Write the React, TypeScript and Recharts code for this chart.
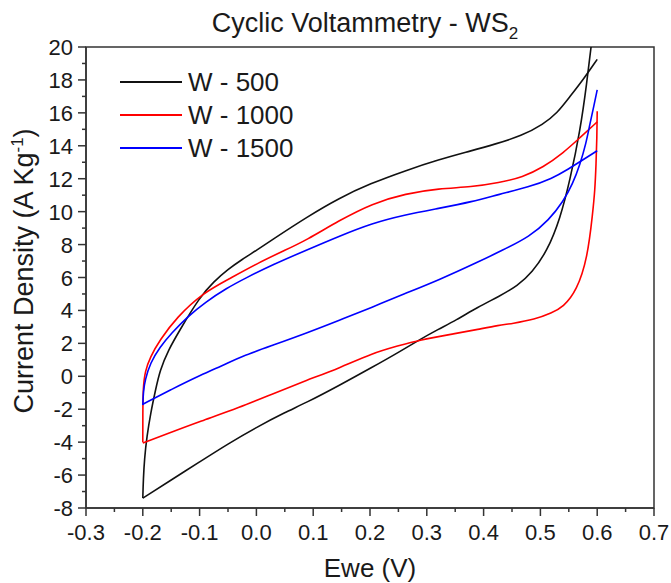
import React from 'react';
import { LineChart, Line, XAxis, YAxis, ReferenceArea } from 'recharts';

const FONT = "Arial, 'Liberation Sans', Helvetica, sans-serif";

// Tick values
const xMajorTicks = [-0.3, -0.2, -0.1, 0.0, 0.1, 0.2, 0.3, 0.4, 0.5, 0.6, 0.7];
const xMinorTicks = [-0.25, -0.15, -0.05, 0.05, 0.15, 0.25, 0.35, 0.45, 0.55, 0.65];
const yMajorTicks = [-8, -6, -4, -2, 0, 2, 4, 6, 8, 10, 12, 14, 16, 18, 20];
const yMinorTicks = [-7, -5, -3, -1, 1, 3, 5, 7, 9, 11, 13, 15, 17, 19];

// Series names
const seriesNames = ['W - 500', 'W - 1000', 'W - 1500'];

// W - 500 : forward (anodic) scan
const w500FwdV = [-0.2, -0.199, -0.197, -0.193, -0.186, -0.178, -0.17, -0.155, -0.135, -0.1, -0.075, -0.05, -0.025, 0.0, 0.028, 0.09, 0.146, 0.2, 0.263, 0.32, 0.379, 0.42, 0.467, 0.505, 0.53, 0.55, 0.575, 0.6];
const w500FwdI = [-7.4, -6.2, -5.0, -3.7, -2.2, -0.9, 0.35, 1.6, 2.8, 4.8, 5.75, 6.5, 7.1, 7.65, 8.3, 9.7, 10.83, 11.7, 12.5, 13.15, 13.7, 14.1, 14.6, 15.3, 16.0, 16.9, 18.0, 19.25];
// W - 500 : reverse (cathodic) scan
const w500RevV = [0.6, 0.595, 0.589, 0.582, 0.57, 0.552, 0.535, 0.512, 0.485, 0.46, 0.427, 0.39, 0.351, 0.32, 0.286, 0.25, 0.204, 0.146, 0.088, 0.05, 0.0, -0.05, -0.1, -0.15, -0.2];
const w500RevI = [23.0, 21.5, 20.0, 17.9, 14.9, 11.9, 9.6, 7.6, 6.3, 5.5, 4.85, 4.2, 3.4, 2.85, 2.2, 1.45, 0.55, -0.55, -1.6, -2.2, -3.1, -4.1, -5.2, -6.3, -7.4];

// W - 1000 : forward scan
const w1000FwdV = [-0.2, -0.2, -0.1995, -0.196, -0.187, -0.17, -0.14, -0.094, -0.052, 0.006, 0.05, 0.088, 0.145, 0.204, 0.263, 0.321, 0.379, 0.427, 0.469, 0.505, 0.54, 0.57, 0.6];
const w1000FwdI = [-4.0, -2.4, -0.66, 0.3, 1.17, 2.2, 3.6, 5.06, 5.84, 6.94, 7.65, 8.27, 9.45, 10.5, 11.1, 11.4, 11.5, 11.75, 12.1, 12.7, 13.56, 14.5, 15.45];
// W - 1000 : reverse scan
const w1000RevV = [0.6, 0.5995, 0.598, 0.596, 0.592, 0.583, 0.564, 0.54, 0.52, 0.49, 0.45, 0.427, 0.39, 0.351, 0.286, 0.25, 0.204, 0.146, 0.088, 0.03, -0.03, -0.1, -0.15, -0.2];
const w1000RevI = [16.1, 14.5, 12.9, 11.3, 9.9, 7.2, 5.2, 4.2, 3.85, 3.45, 3.2, 3.1, 2.85, 2.6, 2.2, 1.85, 1.4, 0.5, -0.25, -1.05, -1.9, -2.75, -3.4, -4.05];

// W - 1500 : forward scan
const w1500FwdV = [-0.2, -0.199, -0.196, -0.187, -0.17, -0.15, -0.122, -0.09, -0.052, -0.02, 0.03, 0.088, 0.145, 0.204, 0.26, 0.321, 0.38, 0.427, 0.48, 0.52, 0.55, 0.575, 0.6];
const w1500FwdI = [-1.75, -0.9, -0.23, 0.8, 1.77, 2.6, 3.6, 4.5, 5.36, 5.95, 6.8, 7.66, 8.5, 9.3, 9.8, 10.2, 10.6, 11.05, 11.5, 12.0, 12.6, 13.15, 13.7];
// W - 1500 : reverse scan
const w1500RevV = [0.6, 0.594, 0.587, 0.58, 0.57, 0.557, 0.54, 0.515, 0.482, 0.43, 0.394, 0.321, 0.26, 0.204, 0.146, 0.088, 0.03, -0.03, -0.05, -0.1, -0.15, -0.2];
const w1500RevI = [17.4, 16.4, 15.3, 14.1, 12.9, 11.7, 10.6, 9.5, 8.5, 7.6, 7.0, 5.84, 5.0, 4.2, 3.4, 2.62, 1.9, 1.16, 0.8, 0.05, -0.8, -1.7];

const seriesColors = ['#111111', '#ff0000', '#0000ff'];

const toPoints = (v: number[], i: number[]) => v.map((x, k) => ({ x, y: i[k] }));

const branches = [
  { key: 'w500f', data: toPoints(w500FwdV, w500FwdI), color: seriesColors[0] },
  { key: 'w500r', data: toPoints(w500RevV, w500RevI), color: seriesColors[0] },
  { key: 'w1000f', data: toPoints(w1000FwdV, w1000FwdI), color: seriesColors[1] },
  { key: 'w1000r', data: toPoints(w1000RevV, w1000RevI), color: seriesColors[1] },
  { key: 'w1500f', data: toPoints(w1500FwdV, w1500FwdI), color: seriesColors[2] },
  { key: 'w1500r', data: toPoints(w1500RevV, w1500RevI), color: seriesColors[2] },
];

const xTicks = [...xMajorTicks, ...xMinorTicks].sort((a, b) => a - b);
const yTicks = [...yMajorTicks, ...yMinorTicks].sort((a, b) => a - b);

const AXIS = '#333333';
const TEXT = '#1a1a1a';

const XTick = (props: any) => {
  const { x, y, payload } = props;
  const v = payload.value as number;
  const major = xMajorTicks.some((m) => Math.abs(m - v) < 1e-9);
  return (
    <g>
      <line x1={x} x2={x} y1={y} y2={y + (major ? 8 : 4)} stroke={AXIS} strokeWidth={1.5} />
      {major && (
        <text x={x} y={y + 32} textAnchor="middle" fontSize={22} fill={TEXT} fontFamily={FONT}>
          {v.toFixed(1)}
        </text>
      )}
    </g>
  );
};

const YTick = (props: any) => {
  const { x, y, payload } = props;
  const v = payload.value as number;
  const major = yMajorTicks.includes(v);
  return (
    <g>
      <line x1={x - (major ? 8 : 4)} x2={x} y1={y} y2={y} stroke={AXIS} strokeWidth={1.5} />
      {major && (
        <text x={x - 13} y={y + 8} textAnchor="end" fontSize={22} fill={TEXT} fontFamily={FONT}>
          {String(v)}
        </text>
      )}
    </g>
  );
};

export default function App() {
  return (
    <div style={{ position: 'absolute', left: 0, top: 0, width: 671, height: 583, background: '#ffffff' }}>
      <div style={{ position: 'absolute', left: 0, top: 0 }}>
        <LineChart width={671} height={583} margin={{ top: 47, right: 17, bottom: 0, left: 0 }}>
          <XAxis
            dataKey="x"
            type="number"
            domain={[-0.3, 0.7]}
            ticks={xTicks}
            interval={0}
            allowDataOverflow
            height={75}
            tickSize={0}
            tickMargin={0}
            tickLine={false}
            tick={<XTick />}
            axisLine={{ stroke: AXIS, strokeWidth: 1.5 }}
          />
          <YAxis
            dataKey="y"
            type="number"
            domain={[-8, 20]}
            ticks={yTicks}
            interval={0}
            allowDataOverflow
            width={86}
            tickSize={0}
            tickMargin={0}
            tickLine={false}
            tick={<YTick />}
            axisLine={{ stroke: AXIS, strokeWidth: 1.5 }}
          />
          {branches.map((b) => (
            <Line
              key={b.key}
              data={b.data}
              dataKey="y"
              type="basis"
              stroke={b.color}
              strokeWidth={1.6}
              dot={false}
              activeDot={false}
              isAnimationActive={false}
            />
          ))}
          <ReferenceArea x1={-0.3} x2={0.7} y1={-8} y2={20} fill="none" stroke={AXIS} strokeWidth={1.5} fillOpacity={0} />
        </LineChart>
      </div>
      <svg
        width={671}
        height={583}
        style={{ position: 'absolute', left: 0, top: 0, pointerEvents: 'none' }}
      >
        <text x={365} y={32} textAnchor="middle" fontSize={27} fill={TEXT} fontFamily={FONT}>
          Cyclic Voltammetry - WS
          <tspan fontSize={17} dy={7}>2</tspan>
        </text>
        <text x={370} y={577} textAnchor="middle" fontSize={26} fill={TEXT} fontFamily={FONT}>
          Ewe (V)
        </text>
        <text
          transform="translate(33,271) rotate(-90)"
          textAnchor="middle"
          fontSize={27}
          fill={TEXT}
          fontFamily={FONT}
        >
          Current Density (A Kg
          <tspan fontSize={17} dy={-10}>-1</tspan>
          <tspan dy={10}>)</tspan>
        </text>
        {seriesNames.map((name, k) => (
          <g key={name}>
            <line x1={120} x2={182} y1={82 + k * 33} y2={82 + k * 33} stroke={seriesColors[k]} strokeWidth={2} />
            <text x={188} y={91 + k * 33} fontSize={26} fill={TEXT} fontFamily={FONT}>
              {name}
            </text>
          </g>
        ))}
      </svg>
    </div>
  );
}
